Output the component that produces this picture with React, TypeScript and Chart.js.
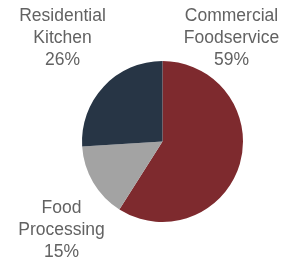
import React, { useEffect, useRef } from "react";
import { Chart, registerables } from "chart.js";

Chart.register(...registerables);

const categories = ["Commercial Foodservice", "Food Processing", "Residential Kitchen"];
const shares = [59, 15, 26];
const labelLines = [
  ["Commercial", "Foodservice", "59%"],
  ["Food", "Processing", "15%"],
  ["Residential", "Kitchen", "26%"],
];
const colors = ["#7e2a2e", "#a3a3a3", "#273545"];
// label anchor offsets relative to pie centre (dx, dy of first line centre)
const labelOffsets = [
  [69, -125],
  [-101, 67],
  [-100, -125],
];

const labelPlugin = {
  id: "outerLabels",
  afterDraw(chart: any) {
    const ctx = chart.ctx;
    const arc = chart.getDatasetMeta(0).data[0];
    if (!arc) return;
    const cx = arc.x;
    const cy = arc.y;
    ctx.save();
    ctx.fillStyle = "#626262";
    ctx.font = "17.5px 'Liberation Sans', Arial, sans-serif";
    ctx.textAlign = "center";
    ctx.textBaseline = "middle";
    labelLines.forEach((lines, i) => {
      const [dx, dy] = labelOffsets[i];
      lines.forEach((t, j) => {
        ctx.fillText(t, cx + dx, cy + dy + j * 22);
      });
    });
    ctx.restore();
  },
};

export default function App() {
  const ref = useRef<HTMLCanvasElement>(null);
  useEffect(() => {
    document.body.style.margin = "0";
    const chart = new Chart(ref.current!, {
      type: "pie",
      data: {
        labels: categories,
        datasets: [
          {
            data: shares,
            backgroundColor: colors,
            borderWidth: 0,
          },
        ],
      },
      options: {
        responsive: false,
        animation: false,
        layout: { padding: { left: 82, right: 42, top: 61, bottom: 43 } },
        plugins: { legend: { display: false }, tooltip: { enabled: false } },
      },
      plugins: [labelPlugin],
    });
    return () => chart.destroy();
  }, []);
  return (
    <div style={{ position: "fixed", left: 0, top: 0, width: 285, height: 265, background: "#fff" }}>
      <canvas ref={ref} width={285} height={265} />
    </div>
  );
}
